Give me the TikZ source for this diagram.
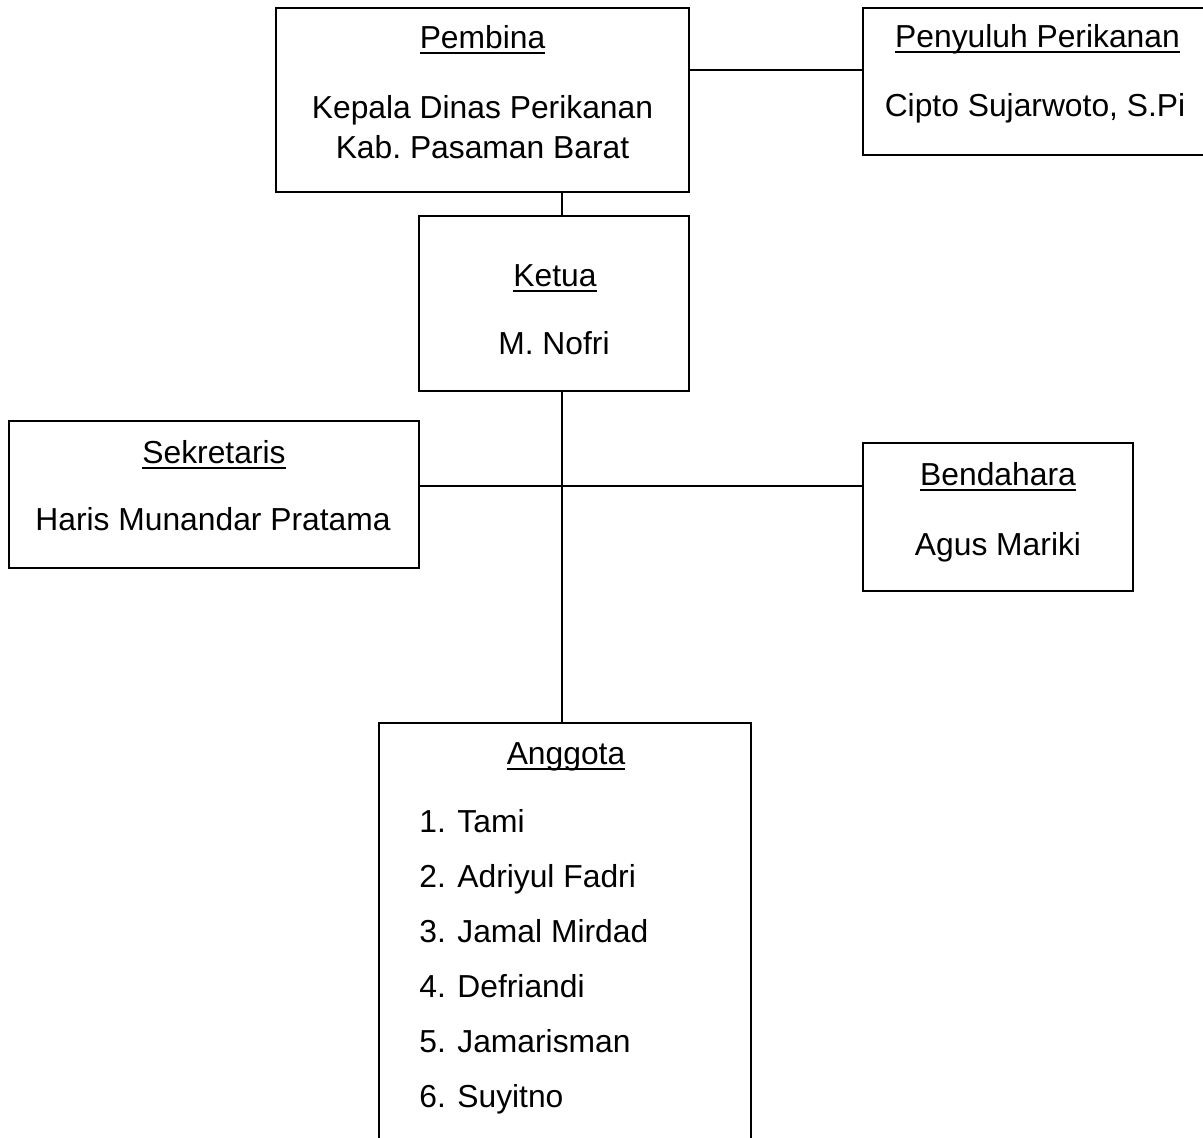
\documentclass[tikz,border=0pt]{standalone}
\usepackage{fontspec}
\setmainfont{Liberation Sans}
\usepackage{tikz}
\frenchspacing

\newcommand{\jabatan}[1]{\setbox0\hbox{#1}\rlap{\rule[-3pt]{\wd0}{1.1pt}}\box0}

\tikzset{
  kotak/.style={draw, line width=1pt, inner sep=0pt},
  teks/.style={inner sep=0pt, anchor=base, font=\fontsize{15.9pt}{18pt}\selectfont},
  daftar/.style={teks, anchor=base west},
  garis/.style={line width=1pt}
}

\begin{document}
\begin{tikzpicture}[x=0.5pt, y=-0.5pt]
\clip (0,0) rectangle (1203,1137);
\fill[white] (0,0) rectangle (1203,1137);

\node[kotak, minimum width=206.5pt, minimum height=92pt] (pembina) at (482.5, 100) {};
\node[kotak, minimum width=174.5pt, minimum height=73.5pt] (penyuluh) at (1037.5, 81.5) {};
\node[kotak, minimum width=135pt, minimum height=87.5pt] (ketua) at (554, 303.5) {};
\node[kotak, minimum width=205pt, minimum height=73.5pt] (sekretaris) at (214, 494.5) {};
\node[kotak, minimum width=135pt, minimum height=74pt] (bendahara) at (998, 517) {};
\node[kotak, minimum width=186pt, minimum height=217pt] (anggota) at (565, 940) {};

\node[teks] (pembina-t) at (482.5, 48) {\jabatan{Pembina}};
\node[teks] (pembina-1) at (482.5, 118) {Kepala Dinas Perikanan};
\node[teks] (pembina-2) at (482.5, 158) {Kab. Pasaman Barat};

\node[teks] (penyuluh-t) at (1037.5, 47) {\jabatan{Penyuluh Perikanan}};
\node[teks] (penyuluh-1) at (1035, 116) {Cipto Sujarwoto, S.Pi};

\node[teks] (ketua-t) at (555, 286) {\jabatan{Ketua}};
\node[teks] (ketua-1) at (554, 354) {M. Nofri};

\node[teks] (sekretaris-t) at (214, 463) {\jabatan{Sekretaris}};
\node[teks] (sekretaris-1) at (213, 530) {Haris Munandar Pratama};

\node[teks] (bendahara-t) at (998, 485) {\jabatan{Bendahara}};
\node[teks] (bendahara-1) at (998, 555) {Agus Mariki};

\node[teks] (anggota-t) at (566, 764) {\jabatan{Anggota}};
\node[daftar] (anggota-1) at (419, 832) {\makebox[19pt][l]{1.}Tami};
\node[daftar] (anggota-2) at (419, 887) {\makebox[19pt][l]{2.}Adriyul Fadri};
\node[daftar] (anggota-3) at (419, 942) {\makebox[19pt][l]{3.}Jamal Mirdad};
\node[daftar] (anggota-4) at (419, 997) {\makebox[19pt][l]{4.}Defriandi};
\node[daftar] (anggota-5) at (419, 1052) {\makebox[19pt][l]{5.}Jamarisman};
\node[daftar] (anggota-6) at (419, 1107) {\makebox[19pt][l]{6.}Suyitno};

% garis penghubung
\coordinate (batang) at (562, 486);
\coordinate (pb) at (0, 70);
\draw[garis] (pembina.east |- pb) -- (penyuluh.west |- pb);
\draw[garis] (batang |- pembina.south) -- (batang |- ketua.north);
\draw[garis] (batang |- ketua.south) -- (batang |- anggota.north);
\draw[garis] (sekretaris.east |- batang) -- (bendahara.west |- batang);
\end{tikzpicture}
\end{document}
